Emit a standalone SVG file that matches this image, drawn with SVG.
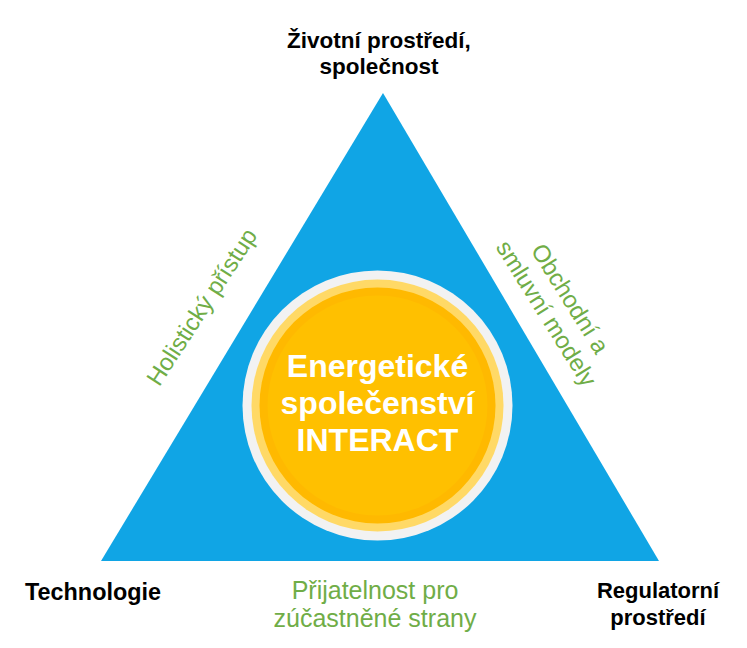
<svg xmlns="http://www.w3.org/2000/svg" width="747" height="648" viewBox="0 0 747 648">
  <style>
    .lbl { font-family: "Liberation Sans", Arial, sans-serif; font-weight: bold; fill: #000000; text-anchor: middle; font-size: 22px; }
    .grn { font-family: "Liberation Sans", Arial, sans-serif; fill: #70AD47; text-anchor: middle; font-size: 24px; }
    .ctr { font-family: "Liberation Sans", Arial, sans-serif; font-weight: bold; fill: #FFFFFF; text-anchor: middle; font-size: 32px; }
  </style>
  <rect width="747" height="648" fill="#FFFFFF"/>
  <g id="triangle">
    <polygon points="383,93 101,561 659,561" fill="#10A5E5"/>
  </g>
  <g id="center">
    <circle cx="377.5" cy="405.5" r="135" fill="#F2F2F2"/>
    <circle cx="377.5" cy="405.5" r="126" fill="#FFD966"/>
    <circle cx="377.5" cy="405.5" r="118" fill="#FFB900"/>
    <circle cx="377.5" cy="405.5" r="110" fill="#FFC000"/>
    <text class="ctr" x="377.5" y="377">Energetické</text>
    <text class="ctr" x="377.5" y="414">společenství</text>
    <text class="ctr" x="377.5" y="451">INTERACT</text>
  </g>
  <g id="top">
    <text class="lbl" x="379" y="48" style="font-size:22.5px">Životní prostředí,</text>
    <text class="lbl" x="379" y="74" style="font-size:22.5px">společnost</text>
  </g>
  <g id="left">
    <text class="lbl" x="93" y="600" style="font-size:23.4px">Technologie</text>
  </g>
  <g id="right">
    <text class="lbl" x="658" y="598">Regulatorní</text>
    <text class="lbl" x="658" y="625">prostředí</text>
  </g>
  <g id="bottom">
    <text class="grn" x="375" y="599" style="font-size:25px">Přijatelnost pro</text>
    <text class="grn" x="375" y="627" style="font-size:25px">zúčastněné strany</text>
  </g>
  <g id="leftside" transform="translate(201,306.5) rotate(-57)">
    <text class="grn" x="0" y="9">Holistický přístup</text>
  </g>
  <g id="rightside" transform="translate(559,305.5) rotate(58)">
    <text class="grn" x="0" y="-5">Obchodní a</text>
    <text class="grn" x="0" y="23">smluvní modely</text>
  </g>
  <g id="connectors"></g>
</svg>
